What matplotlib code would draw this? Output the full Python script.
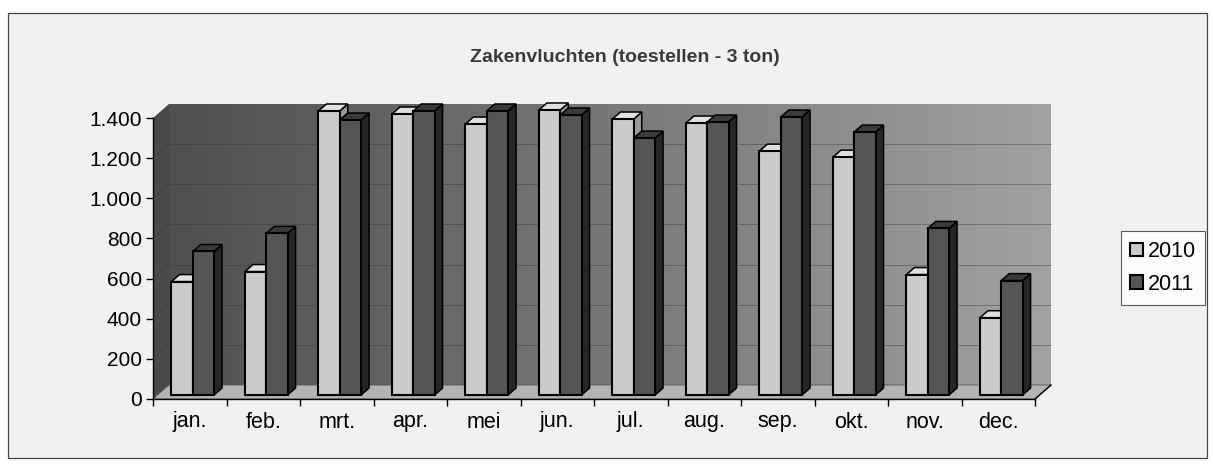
import matplotlib
matplotlib.use("Agg")
import matplotlib.pyplot as plt
from matplotlib.patches import Polygon, Rectangle
import numpy as np

plt.rcParams['font.family'] = ['Liberation Sans', 'DejaVu Sans']

# data
months = ['jan.', 'feb.', 'mrt.', 'apr.', 'mei', 'jun.', 'jul.', 'aug.', 'sep.', 'okt.', 'nov.', 'dec.']
vals_2010 = [565, 615, 1415, 1400, 1350, 1420, 1375, 1355, 1215, 1185, 600, 385]
vals_2011 = [715, 805, 1370, 1415, 1415, 1395, 1280, 1360, 1385, 1310, 830, 570]
series_names = ['2010', '2011']
yticks = [0, 200, 400, 600, 800, 1000, 1200, 1400]

W, H = 1213, 465
fig = plt.figure(figsize=(W / 100, H / 100), dpi=100)
fig.patch.set_facecolor('white')

# outer chart border
fig.patches.append(Rectangle((8 / W, 1 - 458 / H), 1199 / W, 445 / H, transform=fig.transFigure,
                             facecolor='#f1f1f1', edgecolor='#444444', lw=0.9, zorder=-5))

ax_l, ax_r, ax_t, ax_b = 153, 1035, 118, 399
ax = fig.add_axes([ax_l / W, 1 - ax_b / H, (ax_r - ax_l) / W, (ax_b - ax_t) / H])
ax.set_zorder(2)
ax.patch.set_alpha(0)

# pixel -> data units
xpp = 12 / (ax_r - ax_l)
ypp = 1400 / (ax_b - ax_t)
wdx, wdy = 16 * xpp, 14 * ypp      # wall depth
bdx, bdy = 8 * xpp, 7 * ypp        # bar depth
sx, sy = 3 * xpp, 4 * ypp          # bar position inside the floor

# back wall with gradient
grad = np.linspace(0.31, 0.63, 256).reshape(1, -1)
ax.imshow(grad, cmap='gray', vmin=0, vmax=1, aspect='auto',
          extent=(wdx, 12 + wdx, wdy, 1400 + wdy), clip_on=False, zorder=0.5)
ax.set_xlim(0, 12)
ax.set_ylim(0, 1400)
# left side wall
ax.add_patch(Polygon([(0, 0), (wdx, wdy), (wdx, 1400 + wdy), (0, 1400)], closed=True,
                     facecolor='#4a4a4a', edgecolor='none', clip_on=False, zorder=0.6))
# floor
ax.add_patch(Polygon([(0, 0), (12, 0), (12 + wdx, wdy), (wdx, wdy)], closed=True,
                     facecolor='#b4b4b4', edgecolor='#555555', lw=0.6, clip_on=False, zorder=0.7))

# gridlines on walls
for v in yticks[1:-1]:
    ax.plot([wdx, 12 + wdx], [v + wdy, v + wdy], color='#333333', lw=0.6, alpha=0.45,
            clip_on=False, zorder=0.8)
    ax.plot([0, wdx], [v, v + wdy], color='#333333', lw=0.6, alpha=0.45, clip_on=False, zorder=0.8)

x = np.arange(len(months))
bw = 0.29
styles = [('#cbcbcb', '#9a9a9a', '#e0e0e0'), ('#555555', '#262626', '#3a3a3a')]
for k, (vals, name) in enumerate(zip([vals_2010, vals_2011], series_names)):
    front, side, top = styles[k]
    left = x + 0.5 - bw + k * bw + sx
    z = 2 + k
    ax.bar(left, vals, bw, bottom=sy, align='edge', color=front, edgecolor='black', lw=1.5,
           label=name, zorder=z + 0.5, clip_on=False)
    for x0, v in zip(left, vals):
        x1 = x0 + bw
        b, h = sy, v + sy
        ax.add_patch(Polygon([(x1, b), (x1 + bdx, b + bdy), (x1 + bdx, h + bdy), (x1, h)], closed=True,
                             facecolor=side, edgecolor='black', lw=1.1, zorder=z, clip_on=False))
        ax.add_patch(Polygon([(x0, h), (x1, h), (x1 + bdx, h + bdy), (x0 + bdx, h + bdy)], closed=True,
                             facecolor=top, edgecolor='black', lw=1.1, zorder=z, clip_on=False))

# axes
for s in ['top', 'right']:
    ax.spines[s].set_visible(False)
ax.spines['left'].set_linewidth(1.0)
ax.spines['bottom'].set_linewidth(1.0)
ax.spines['left'].set_zorder(5)
ax.spines['bottom'].set_zorder(5)
ax.plot([12, 12 + wdx], [0, wdy], color='black', lw=1.0, clip_on=False, zorder=5)

ax.set_yticks(yticks)
ax.set_yticklabels([f"{v:,}".replace(",", ".") for v in yticks], fontsize=15)
ax.tick_params(axis='y', length=5, width=1, pad=3)
ax.set_xticks(np.arange(13))
ax.set_xticklabels([])
ax.tick_params(axis='x', which='major', length=5, width=1)
ax.set_xticks(x + 0.5, minor=True)
ax.set_xticklabels(months, minor=True, fontsize=15.5)
ax.tick_params(axis='x', which='minor', length=0, pad=9)

fig.text(625 / W, 1 - 58 / H, 'Zakenvluchten (toestellen - 3 ton)', ha='center', va='center',
         fontsize=14, fontweight='bold', color='#3a3a3a')

leg = fig.legend(loc='center', bbox_to_anchor=(1163 / W, 1 - 268 / H), fontsize=15.5, frameon=True,
                 fancybox=False, edgecolor='#333333', handlelength=0.6, handleheight=0.6,
                 handletextpad=0.2, borderpad=0.45, labelspacing=0.55)
leg.get_frame().set_linewidth(0.8)
leg.get_frame().set_facecolor('white')

fig.savefig('out.png', dpi=100, facecolor=fig.get_facecolor())
